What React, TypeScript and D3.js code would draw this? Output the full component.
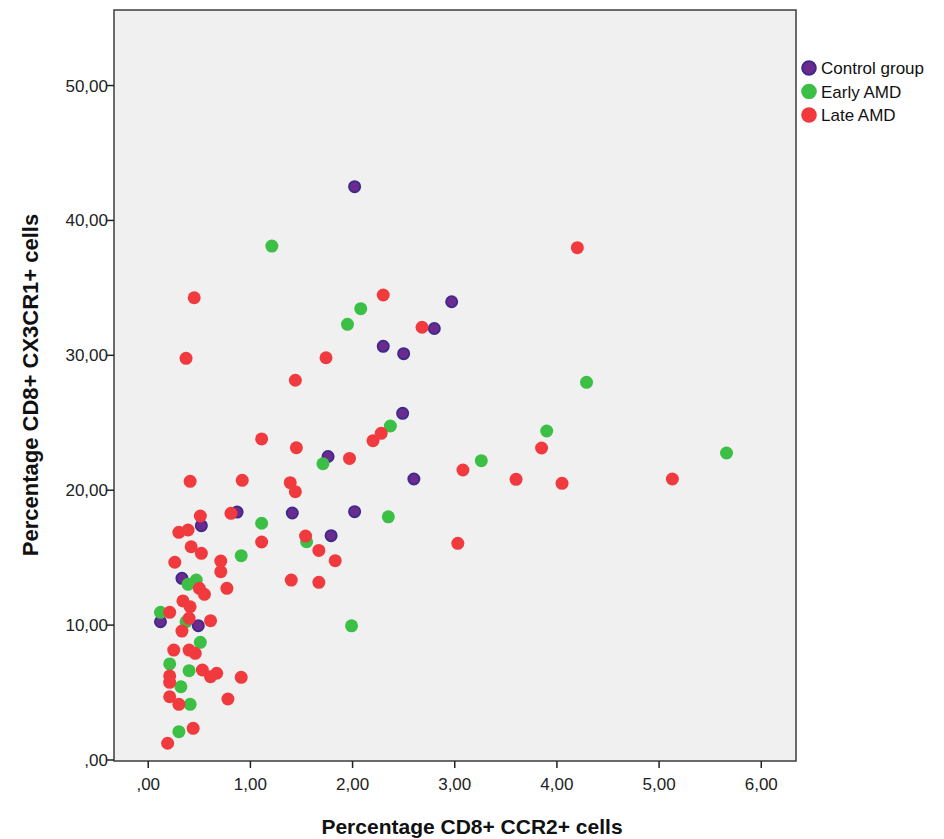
import React from "react";
import * as d3 from "d3";

const controlGroup: [number, number][] = [
  [2.02, 42.5], [2.97, 33.97], [2.8, 31.99], [2.3, 30.67], [2.5, 30.12], [2.49, 25.7],
  [1.76, 22.5], [2.6, 20.83], [1.41, 18.31], [2.02, 18.41], [0.87, 18.38], [1.79, 16.63],
  [0.52, 17.37], [0.33, 13.47], [0.12, 10.25], [0.49, 9.96],
];

const earlyAMD: [number, number][] = [
  [1.21, 38.1], [2.08, 33.46], [1.95, 32.3], [2.37, 24.76], [1.71, 21.96], [4.29, 28.0],
  [3.9, 24.39], [3.26, 22.19], [5.66, 22.76], [2.35, 18.03], [1.11, 17.55], [1.55, 16.18],
  [0.91, 15.15], [1.99, 9.95], [0.47, 13.34], [0.39, 13.02], [0.12, 10.95], [0.37, 10.25],
  [0.51, 8.72], [0.21, 7.12], [0.4, 6.62], [0.32, 5.43], [0.41, 4.13], [0.3, 2.1],
];

const lateAMD: [number, number][] = [
  [0.45, 34.27], [2.3, 34.47], [2.68, 32.08], [0.37, 29.78], [1.74, 29.82], [1.44, 28.15],
  [2.28, 24.22], [2.2, 23.67], [1.11, 23.8], [1.45, 23.15], [1.97, 22.36], [0.41, 20.66],
  [0.92, 20.73], [1.39, 20.56], [1.44, 19.89], [4.2, 37.98], [3.85, 23.13], [3.08, 21.5],
  [3.6, 20.81], [4.05, 20.51], [5.13, 20.83], [3.03, 16.06], [0.81, 18.29], [0.51, 18.09],
  [0.3, 16.88], [0.39, 17.05], [0.42, 15.81], [0.52, 15.32], [0.26, 14.66], [1.11, 16.16],
  [1.54, 16.6], [1.67, 15.54], [1.83, 14.78], [0.71, 14.75], [0.71, 13.96], [1.4, 13.34],
  [1.67, 13.17], [0.77, 12.73], [0.5, 12.73], [0.55, 12.28], [0.34, 11.79], [0.41, 11.36],
  [0.21, 10.95], [0.4, 10.5], [0.61, 10.33], [0.33, 9.56], [0.25, 8.15], [0.4, 8.15],
  [0.46, 7.91], [0.53, 6.67], [0.61, 6.18], [0.67, 6.43], [0.91, 6.13], [0.21, 6.23],
  [0.21, 5.76], [0.21, 4.69], [0.3, 4.13], [0.78, 4.52], [0.44, 2.35], [0.19, 1.24],
];

const xTicks = [0, 1, 2, 3, 4, 5, 6];
const xTickLabels = [",00", "1,00", "2,00", "3,00", "4,00", "5,00", "6,00"];
const yTicks = [0, 10, 20, 30, 40, 50];
const yTickLabels = [",00", "10,00", "20,00", "30,00", "40,00", "50,00"];

const seriesNames = ["Control group", "Early AMD", "Late AMD"];
const seriesFill = ["#6c2a8e", "#3cbf45", "#f03a3e"];
const seriesStroke = ["#3d2a8a", "#3cbf45", "#f03a3e"];

const FONT = "'Liberation Sans', Arial, sans-serif";

export default function App() {
  const left = 114, right = 796, top = 10, bottom = 761;
  const x = d3.scaleLinear().domain([-0.335, 6.34]).range([left, right]);
  const y = d3.scaleLinear().domain([0, 55.6]).range([760, top]);
  const series = [controlGroup, earlyAMD, lateAMD];

  return (
    <svg width={944} height={839} style={{ position: "absolute", left: 0, top: 0, background: "#fff" }}>
      <rect x={left} y={top} width={right - left} height={bottom - top} fill="#f0f0f0" />
      {series.map((pts, si) => (
        <g key={si}>
          {pts.map((p, i) => (
            <circle
              key={i}
              cx={x(p[0])}
              cy={y(p[1])}
              r={si === 0 ? 5.6 : 6.5}
              fill={seriesFill[si]}
              stroke={seriesStroke[si]}
              strokeWidth={si === 0 ? 1.8 : 0}
            />
          ))}
        </g>
      ))}
      <rect x={left} y={top} width={right - left} height={bottom - top} fill="none" stroke="#3c3c3c" strokeWidth={1.5} />
      {xTicks.map((t, i) => (
        <g key={i}>
          <line x1={x(t)} x2={x(t)} y1={bottom} y2={bottom + 7} stroke="#222" strokeWidth={1.5} />
          <text x={x(t)} y={790} textAnchor="middle" fontFamily={FONT} fontSize={17} fill="#222">
            {xTickLabels[i]}
          </text>
        </g>
      ))}
      {yTicks.map((t, i) => (
        <g key={i}>
          <line x1={left - 7} x2={left} y1={y(t)} y2={y(t)} stroke="#222" strokeWidth={1.5} />
          <text x={108} y={y(t) + 6} textAnchor="end" fontFamily={FONT} fontSize={17} fill="#222">
            {yTickLabels[i]}
          </text>
        </g>
      ))}
      <text x={472} y={834} textAnchor="middle" fontFamily={FONT} fontSize={21} fontWeight="bold" fill="#111">
        Percentage CD8+ CCR2+ cells
      </text>
      <text
        transform={`translate(38, ${385}) rotate(-90)`}
        textAnchor="middle"
        fontFamily={FONT}
        fontSize={22}
        fontWeight="bold"
        fill="#111"
      >
        Percentage CD8+ CX3CR1+ cells
      </text>
      {seriesNames.map((n, i) => (
        <g key={i}>
          <circle
            cx={809}
            cy={68 + i * 23.5}
            r={i === 0 ? 6.8 : 7.8}
            fill={seriesFill[i]}
            stroke={seriesStroke[i]}
            strokeWidth={i === 0 ? 2 : 0}
          />
          <text x={821} y={68 + i * 23.5 + 6} fontFamily={FONT} fontSize={17} fill="#111">
            {n}
          </text>
        </g>
      ))}
    </svg>
  );
}
